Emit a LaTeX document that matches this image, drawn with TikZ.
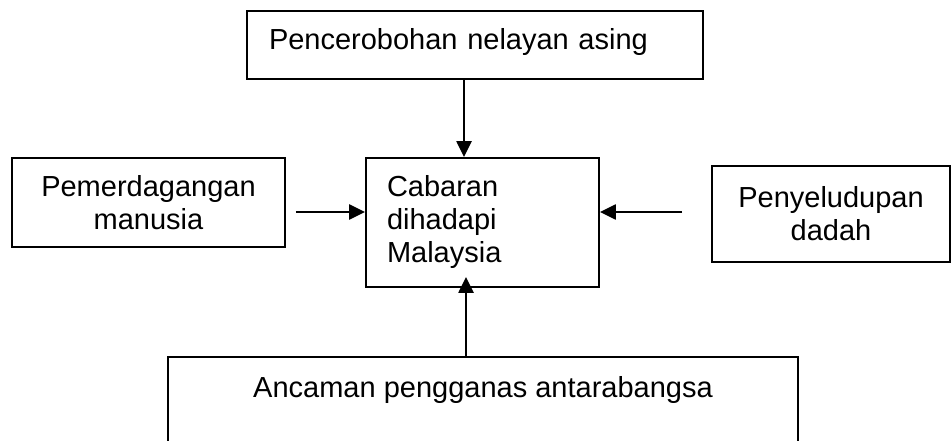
\documentclass[tikz,border=0pt]{standalone}
\usepackage{fontspec}
\setmainfont{Liberation Sans}
\usetikzlibrary{arrows.meta}
\usetikzlibrary{shapes}

\tikzset{
  box/.style={draw, rectangle, line width=1.8pt, inner ysep=0pt,
    font=\fontsize{29}{33}\selectfont},
  arr/.style={->, line width=2.3pt},
}

\begin{document}
\begin{tikzpicture}[>={Triangle[length=16pt,width=15pt]},line join=miter,x=1pt,y=-1pt]
%%
\useasboundingbox (0,0) rectangle (951,441);
\clip (0,0) rectangle (951,441);
\coordinate (x_top) at (464,0);
\coordinate (x_bot) at (466,0);
\coordinate (y_mid) at (0,212);
%
\node (node_nelayan) at (475,45) [box,minimum width=456,minimum height=68,
  text width=412,inner xsep=22,align=left,text height=21pt,text depth=12pt] {Pencerobohan nelayan asing};
  \node (node_cabaran) at (482.5,222.5) [box,minimum width=233,minimum height=129,
  text width=191,inner xsep=21,align=left] {Cabaran\\dihadapi\\Malaysia};
  \node (node_manusia) at (148.5,202.5) [box,minimum width=273,minimum height=89,
  inner xsep=0pt,align=center] {Pemerdagangan\\manusia};
  \node (node_dadah) at (831,214) [box,minimum width=238,minimum height=96,
  inner xsep=0pt,align=center] {Penyeludupan\\dadah};
  \node (node_ancaman) at (483,407) [box,minimum width=630,minimum height=100,
  inner xsep=0pt,text height=21pt,text depth=41pt] {Ancaman pengganas antarabangsa};
%
  \draw [arr] (node_nelayan.south -| x_top) -- (node_cabaran.north -| x_top);
  \draw [arr,shorten <=10pt] (node_manusia.east |- y_mid) -- (node_cabaran.west |- y_mid);
  \draw [arr,shorten <=29pt] (node_dadah.west |- y_mid) -- (node_cabaran.east |- y_mid);
  \draw [arr,shorten >=-11pt] (node_ancaman.north -| x_bot) -- (node_cabaran.south -| x_bot);
%
\end{tikzpicture}
\end{document}
